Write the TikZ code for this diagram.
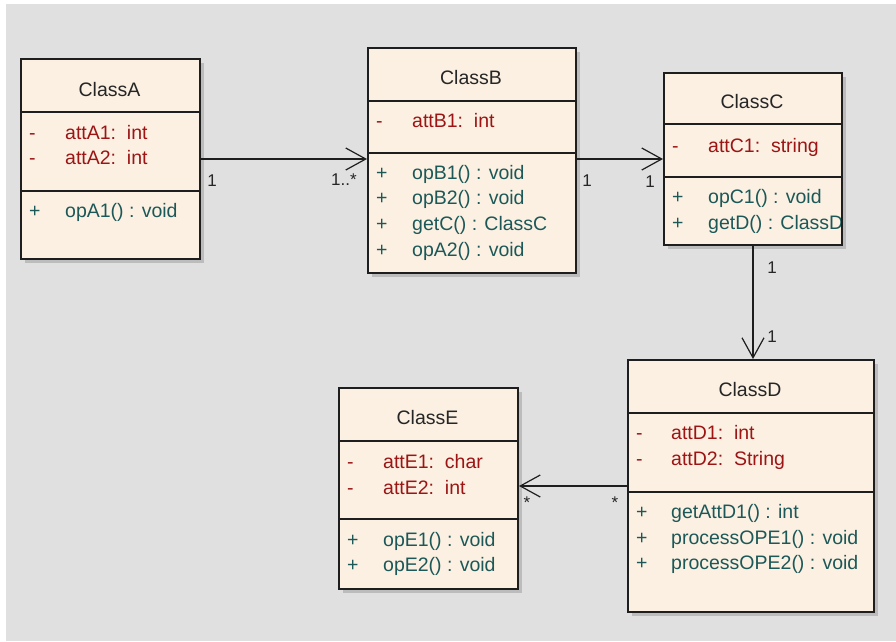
\documentclass[tikz,border=0pt]{standalone}
\usepackage{fontspec}
\setmainfont{Liberation Sans}
\usetikzlibrary{arrows.meta}
\definecolor{bgc}{HTML}{E0E0E0}
\definecolor{boxfill}{HTML}{FBF0E2}
\definecolor{boxline}{HTML}{1E1E1E}
\definecolor{attrc}{HTML}{9C1414}
\definecolor{opc}{HTML}{1C5858}
\definecolor{shadc}{HTML}{BCBCBC}
\tikzset{
  classbox/.style={draw=boxline, line width=2pt, fill=boxfill, anchor=north west, inner sep=0pt},
  shadowbox/.style={fill=shadc},
  divider/.style={draw=boxline, line width=1.6pt},
  ctitle/.style={font=\fontsize{19.5}{22}\selectfont, text=black!85, anchor=base, inner sep=0pt},
  attr/.style={font=\fontsize{19.5}{22}\selectfont, text=attrc, anchor=base west, inner sep=0pt},
  oper/.style={font=\fontsize{19.5}{22}\selectfont, text=opc, anchor=base west, inner sep=0pt},
  mult/.style={font=\fontsize{17}{20}\selectfont, text=black!85, inner sep=0pt},
  assoc/.style={draw=boxline, line width=1.5pt, -{Straight Barb[length=20pt,width=22pt,line width=1.2pt]}},
}
\newcommand\classshape[5]{% name, x1, y1, x2, y2
  \fill[shadowbox] (#2+5,#3+5) rectangle (#4+5,#5+5);
  \node[classbox, minimum width={#4-#2}, minimum height={#5-#3}] (#1) at (#2,#3) {};
}
\begin{document}
\begin{tikzpicture}[x=1pt,y=-1pt]
\useasboundingbox (0,0) rectangle (896,641);
\fill[white] (0,0) rectangle (896,641);
\fill[bgc] (6,4) rectangle (896,641);

% ---------- ClassA ----------
\classshape{A}{20}{58}{199}{258}
\draw[divider] (20,112) -- (199,112);
\draw[divider] (20,191) -- (199,191);
\node[ctitle] (At) at (109.5,96) {ClassA};
\node[attr] (Am1) at (29,139) {-};
\node[attr] (Aa1) at (65,139) {attA1:\ \ int};
\node[attr] (Am2) at (29,164) {-};
\node[attr] (Aa2) at (65,164) {attA2:\ \ int};
\node[oper] (Ap1) at (29,217) {+};
\node[oper] (Ao1) at (65,217) {opA1() : void};

% ---------- ClassB ----------
\classshape{B}{367}{47}{575}{272}
\draw[divider] (367,101) -- (575,101);
\draw[divider] (367,153) -- (575,153);
\node[ctitle] (Bt) at (471,84) {ClassB};
\node[attr] (Bm1) at (376,127) {-};
\node[attr] (Ba1) at (412,127) {attB1:\ \ int};
\node[oper] (Bp1) at (376,179) {+};
\node[oper] (Bo1) at (412,179) {opB1() : void};
\node[oper] (Bp2) at (376,204) {+};
\node[oper] (Bo2) at (412,204) {opB2() : void};
\node[oper] (Bp3) at (376,230) {+};
\node[oper] (Bo3) at (412,230) {getC() : ClassC};
\node[oper] (Bp4) at (376,256) {+};
\node[oper] (Bo4) at (412,256) {opA2() : void};

% ---------- ClassC ----------
\classshape{C}{663}{72}{841}{244}
\draw[divider] (663,124) -- (841,124);
\draw[divider] (663,177) -- (841,177);
\node[ctitle] (Ct) at (752,108) {ClassC};
\node[attr] (Cm1) at (672,152) {-};
\node[attr] (Ca1) at (708,152) {attC1:\ \ string};
\node[oper] (Cp1) at (672,203) {+};
\node[oper] (Co1) at (708,203) {opC1() : void};
\node[oper] (Cp2) at (672,229) {+};
\begin{scope}
\clip (663,180) rectangle (840,243);
\node[oper] (Co2) at (708,229) {getD() : ClassD};
\end{scope}

% ---------- ClassD ----------
\classshape{D}{627}{359}{873}{611}
\draw[divider] (627,413) -- (873,413);
\draw[divider] (627,492) -- (873,492);
\node[ctitle] (Dt) at (750,396) {ClassD};
\node[attr] (Dm1) at (636,439) {-};
\node[attr] (Da1) at (671,439) {attD1:\ \ int};
\node[attr] (Dm2) at (636,465) {-};
\node[attr] (Da2) at (671,465) {attD2:\ \ String};
\node[oper] (Dp1) at (636,518) {+};
\node[oper] (Do1) at (671,518) {getAttD1() : int};
\node[oper] (Dp2) at (636,544) {+};
\node[oper] (Do2) at (671,544) {processOPE1() : void};
\node[oper] (Dp3) at (636,569) {+};
\node[oper] (Do3) at (671,569) {processOPE2() : void};

% ---------- ClassE ----------
\classshape{E}{338}{387}{517}{588}
\draw[divider] (338,441) -- (517,441);
\draw[divider] (338,519) -- (517,519);
\node[ctitle] (Et) at (427.5,424) {ClassE};
\node[attr] (Em1) at (347,468) {-};
\node[attr] (Ea1) at (383,468) {attE1:\ \ char};
\node[attr] (Em2) at (347,494) {-};
\node[attr] (Ea2) at (383,494) {attE2:\ \ int};
\node[oper] (Ep1) at (347,546) {+};
\node[oper] (Eo1) at (383,546) {opE1() : void};
\node[oper] (Ep2) at (347,571) {+};
\node[oper] (Eo2) at (383,571) {opE2() : void};

% ---------- associations ----------
\draw[assoc] (A.east) -- (A.east -| B.west);
\draw[assoc] (C.west -| B.east) -- (C.west);
\draw[assoc] (C.south) -- (C.south |- D.north);
\draw[assoc] (D.west) -- (D.west -| E.east);

% ---------- multiplicities ----------
\node[mult] (m1) at (212,181) {1};
\node[mult] (m2) at (344,180) {1..*};
\node[mult] (m3) at (587,181) {1};
\node[mult] (m4) at (650,182) {1};
\node[mult] (m5) at (772,268) {1};
\node[mult] (m6) at (772,337) {1};
\node[mult] (m7) at (527,503) {*};
\node[mult] (m8) at (615,503) {*};
\end{tikzpicture}
\end{document}
